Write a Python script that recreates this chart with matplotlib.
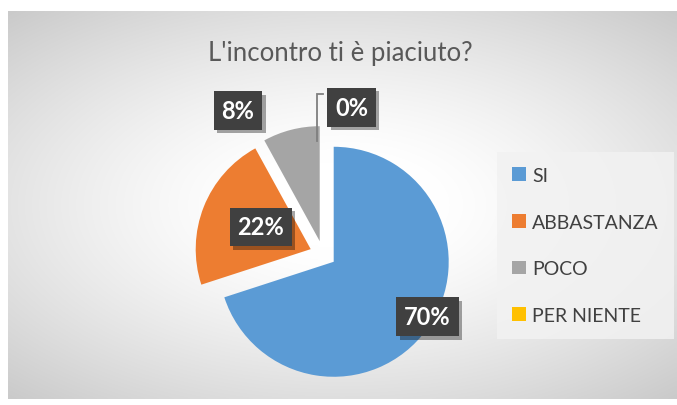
"""Excel-style exploded pie: L'incontro ti è piaciuto?"""

import matplotlib
matplotlib.use("Agg")

import matplotlib.pyplot as plt
import matplotlib.patheffects as pe
import numpy as np

# ---------------------------------------------------------------------------
# Data
# ---------------------------------------------------------------------------
TITLE = "L'incontro ti è piaciuto?"
categories = ["SI", "ABBASTANZA", "POCO", "PER NIENTE"]
values = [70, 22, 8, 0]
pct_labels = ["70%", "22%", "8%", "0%"]

# ---------------------------------------------------------------------------
# Style / layout
# ---------------------------------------------------------------------------
COLORS = ["#5B9BD5", "#ED7D31", "#A5A5A5", "#FFC000"]
TEXT_DARK = "#595959"
FONT = ["Lato", "DejaVu Sans"]
W, H = 677, 406
CX, CY, R = 323, 255, 115          # pie centre / radius in pixels
HALF = 180                          # half size of the pie axes box in pixels
EXPLODE = 0.115

# label positions (polar in pie-radius units, degrees)
LABEL_POS = [(1.06, -31.0), (0.59, 156.5), (1.45, 120.7), (1.30, 79.0)]

plt.rcParams["font.family"] = FONT

fig = plt.figure(figsize=(W / 100, H / 100), dpi=100)
fig.patch.set_facecolor("white")

# ── chart background: soft radial gradient ──────────────────────────────────
bg = fig.add_axes([8 / W, 6 / H, 1 - 8 / W, 1 - 18 / H])
yy, xx = np.mgrid[-1:1:200j, -1:1:300j]
dist = np.sqrt((xx * 0.95) ** 2 + (yy * 1.05) ** 2)
shade = 1.0 - 0.17 * np.clip(dist - 0.25, 0, None) ** 1.3
bg.imshow(np.dstack([shade] * 3), aspect="auto", extent=(0, 1, 0, 1),
          interpolation="bicubic")
bg.set_xlim(0, 1)
bg.set_ylim(0, 1)
bg.axis("off")

# ── pie ─────────────────────────────────────────────────────────────────────
ax = fig.add_axes([(CX - HALF) / W, (H - CY - HALF) / H, 2 * HALF / W, 2 * HALF / H])
ax.axis("off")

wedges, _ = ax.pie(
    values,
    colors=COLORS,
    startangle=90,
    counterclock=False,
    explode=[EXPLODE] * len(values),
    radius=1.0,
    wedgeprops=dict(linewidth=0),
)
ax.set_xlim(-HALF / R, HALF / R)
ax.set_ylim(-HALF / R, HALF / R)

# leader line for the empty slice
x0 = EXPLODE * np.cos(np.deg2rad(90))
ax.plot([x0 - 0.05, x0 - 0.05, x0], [0.98, 1.39, 1.39], color="#7f7f7f", lw=1.3,
        solid_joinstyle="miter")

for lab, (rr, ang) in zip(pct_labels, LABEL_POS):
    t = ax.text(
        rr * np.cos(np.deg2rad(ang)), rr * np.sin(np.deg2rad(ang)), lab,
        ha="center", va="center", color="white", fontsize=17, fontweight="bold",
        bbox=dict(boxstyle="square,pad=0.33", facecolor="#404040", edgecolor="none"),
        zorder=5,
    )
    t.get_bbox_patch().set_path_effects(
        [pe.SimplePatchShadow(offset=(2.5, -2.5), shadow_rgbFace="black", alpha=0.35),
         pe.Normal()]
    )

# ── title ───────────────────────────────────────────────────────────────────
fig.text(340 / W, 1 - 53 / H, TITLE, ha="center", va="center", fontsize=18.5,
         color=TEXT_DARK)

# ── legend ──────────────────────────────────────────────────────────────────
leg = fig.legend(
    wedges, categories,
    loc="upper left", bbox_to_anchor=(497 / W, 1 - 153 / H),
    frameon=True, fancybox=False, fontsize=14,
    handlelength=0.72, handleheight=0.72, handletextpad=0.3,
    labelspacing=1.52, borderpad=0.78, borderaxespad=0,
    labelcolor="#404040",
)
leg.get_frame().set_facecolor("#f2f2f2")
leg.get_frame().set_edgecolor("none")
leg.get_frame().set_alpha(0.85)

fig.savefig("out.png", dpi=100)
